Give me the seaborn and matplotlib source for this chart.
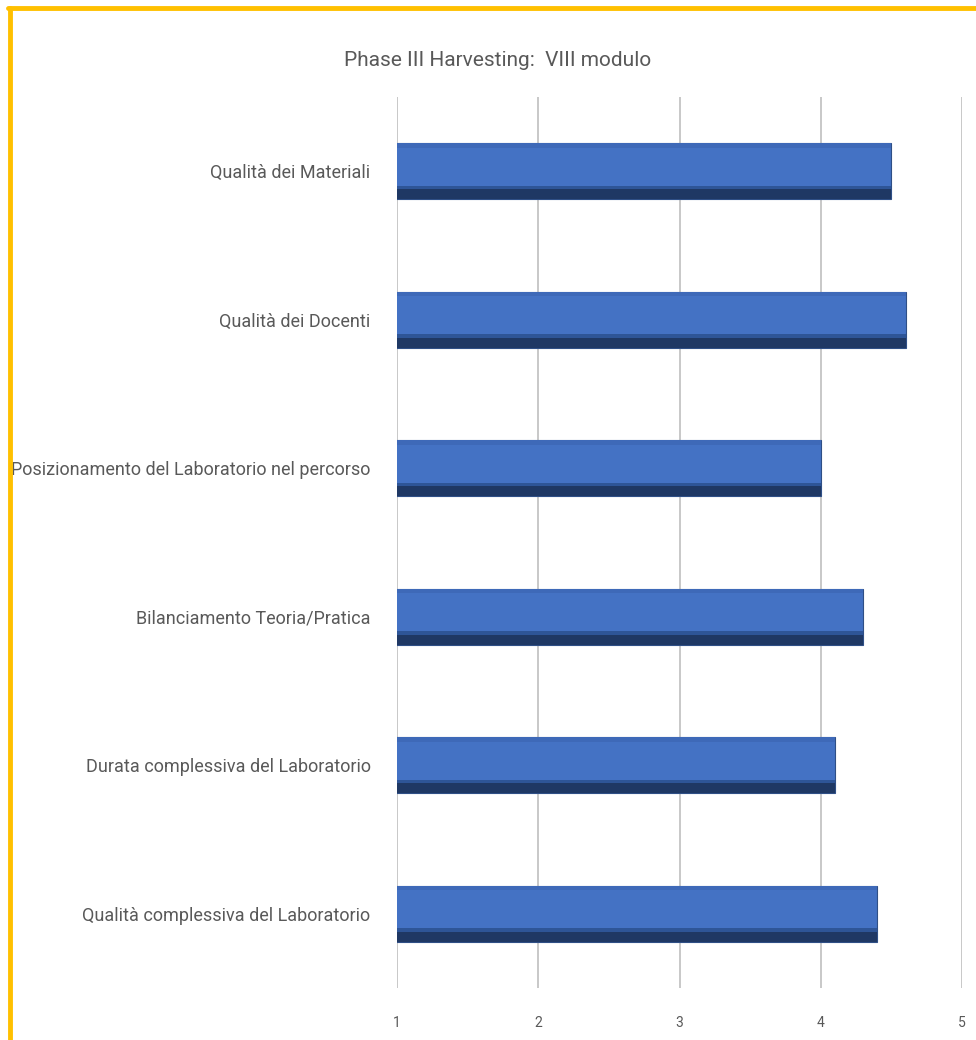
import pandas as pd
import seaborn as sns
import matplotlib.pyplot as plt
from matplotlib.lines import Line2D

# Data
categories = [
    'Qualità dei Materiali',
    'Qualità dei Docenti',
    'Posizionamento del Laboratorio nel percorso',
    'Bilanciamento Teoria/Pratica',
    'Durata complessiva del Laboratorio',
    'Qualità complessiva del Laboratorio',
]
scores = [4.5, 4.6, 4.0, 4.3, 4.1, 4.4]
x_ticks = [1, 2, 3, 4, 5]

df = pd.DataFrame({'Voce': categories, 'Punteggio': scores})

sns.set_style('white')
plt.rcParams['font.family'] = ['Roboto', 'DejaVu Sans']

fig = plt.figure(figsize=(9.76, 10.4), dpi=100)
ax = fig.add_axes([397 / 976, 1 - 988 / 1040, (962 - 397) / 976, (988 - 97) / 1040])

bar_w = 0.38
sns.barplot(data=df, x='Punteggio', y='Voce', orient='h', color='#4472C4',
            width=bar_w, edgecolor='#2F4F86', linewidth=0.8, saturation=1, ax=ax)

# bevel shading: darker lower band and slightly darker upper rim
ys = range(len(categories))
lefts = [1] * len(scores)
widths = [s - 1 for s in scores]
ax.barh([y + bar_w * 0.41 for y in ys], widths, left=lefts, height=bar_w * 0.18,
        color='#1F3864', linewidth=0, zorder=3)
ax.barh([y + bar_w * 0.29 for y in ys], widths, left=lefts, height=bar_w * 0.06,
        color='#2E5597', linewidth=0, zorder=3)
ax.barh([y - bar_w * 0.46 for y in ys], widths, left=lefts, height=bar_w * 0.08,
        color='#3E69B8', linewidth=0, zorder=3)

ax.set_xlim(1, 5)
ax.set_xticks(x_ticks)
ax.set_xticklabels([str(t) for t in x_ticks])
ax.set_ylim(len(categories) - 0.5, -0.5)
ax.xaxis.grid(True, color='#BFBFBF', linewidth=1.2)
ax.set_axisbelow(True)
for side in ['top', 'right', 'bottom', 'left']:
    ax.spines[side].set_visible(False)

ax.set_xlabel('')
ax.set_ylabel('')
ax.tick_params(axis='y', labelsize=13, labelcolor='#595959', length=0, pad=19)
ax.tick_params(axis='x', labelsize=10, labelcolor='#595959', length=0, pad=20)

fig.text(0.51, 1 - 60 / 1040, 'Phase III Harvesting:  VIII modulo', ha='center', va='center',
         fontsize=15, color='#595959')

# gold frame
fig.add_artist(Line2D([10 / 976, 10 / 976], [0, 1 - 8 / 1040], color='#FFC000', linewidth=3.5))
fig.add_artist(Line2D([8 / 976, 1], [1 - 8 / 1040, 1 - 8 / 1040], color='#FFC000', linewidth=3.5))

fig.savefig('out.png', dpi=100, facecolor='white')
